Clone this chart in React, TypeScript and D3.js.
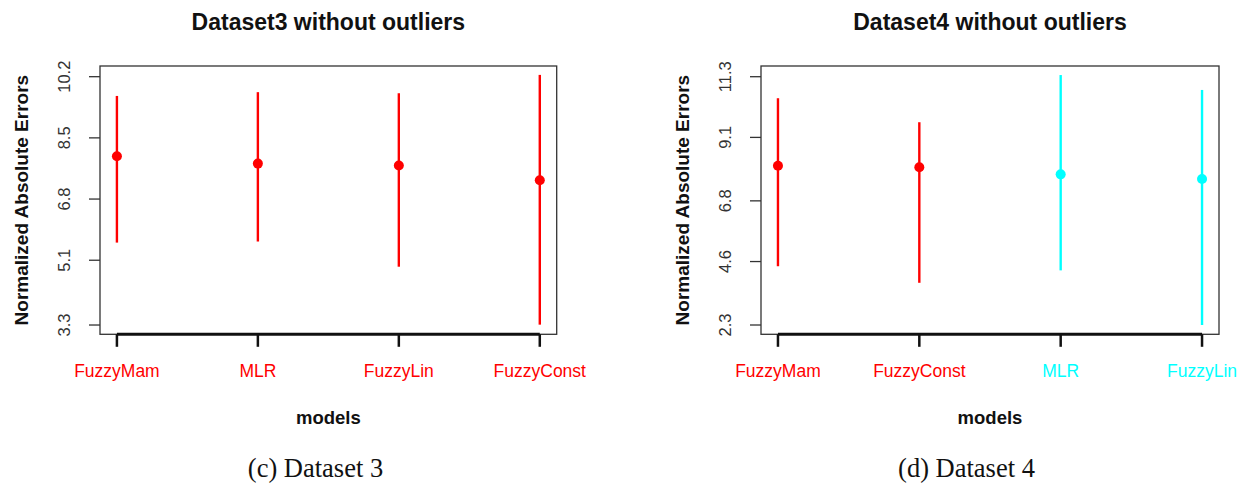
import React from "react";
import * as d3 from "d3";

// ---- Data ----
const titles = ["Dataset3 without outliers", "Dataset4 without outliers"];
const captions = ["(c) Dataset 3", "(d) Dataset 4"];

const categories3 = ["FuzzyMam", "MLR", "FuzzyLin", "FuzzyConst"];
const lower3 = [5.59, 5.62, 4.92, 3.31];
const mean3 = [7.99, 7.785, 7.73, 7.32];
const upper3 = [9.665, 9.77, 9.74, 10.25];
const colors3 = ["#ff0000", "#ff0000", "#ff0000", "#ff0000"];
const ticks3 = [3.3, 5.1, 6.8, 8.5, 10.2];

const categories4 = ["FuzzyMam", "FuzzyConst", "MLR", "FuzzyLin"];
const lower4 = [4.43, 3.83, 4.28, 2.3];
const mean4 = [8.07, 8.02, 7.76, 7.59];
const upper4 = [10.52, 9.65, 11.36, 10.82];
const colors4 = ["#ff0000", "#ff0000", "#00ffff", "#00ffff"];
const ticks4 = [2.3, 4.6, 6.8, 9.1, 11.3];

const yDomain3: [number, number] = [3.042, 10.497];
const yDomain4: [number, number] = [1.963, 11.688];

const SANS = "'Liberation Sans', Arial, Helvetica, sans-serif";
const SERIF = "'Liberation Serif', 'Times New Roman', serif";

type PanelProps = {
  x0: number;
  x1: number;
  title: string;
  caption: string;
  captionX: number;
  cats: string[];
  lo: number[];
  mid: number[];
  hi: number[];
  cols: string[];
  ticks: number[];
  yDomain: [number, number];
};

function Panel(p: PanelProps) {
  const y0 = 66;
  const y1 = 334.3;
  const x = d3.scaleLinear().domain([0.88, 4.12]).range([p.x0, p.x1]);
  const y = d3.scaleLinear().domain(p.yDomain).range([y1, y0]);
  const cx = (p.x0 + p.x1) / 2;
  const idx = d3.range(p.cats.length);
  const seg = d3.line<[number, number]>();
  return (
    <g>
      <text
        x={cx}
        y={29.5}
        textAnchor="middle"
        fontFamily={SANS}
        fontWeight="bold"
        fontSize={23}
        fill="#111"
      >
        {p.title}
      </text>
      {/* box */}
      <rect
        x={p.x0}
        y={y0}
        width={p.x1 - p.x0}
        height={y1 - y0}
        fill="none"
        stroke="#333"
        strokeWidth={1.3}
      />
      {/* y ticks */}
      {p.ticks.map((t) => (
        <g key={t}>
          <line x1={p.x0 - 11} x2={p.x0} y1={y(t)} y2={y(t)} stroke="#333" strokeWidth={1.3} />
          <text
            transform={`translate(${p.x0 - 30},${y(t)}) rotate(-90)`}
            textAnchor="middle"
            fontFamily={SANS}
            fontSize={16.5}
            fill="#333"
          >
            {String(t)}
          </text>
        </g>
      ))}
      <text
        transform={`translate(${p.x0 - 72},${(y0 + y1) / 2}) rotate(-90)`}
        textAnchor="middle"
        fontFamily={SANS}
        fontWeight="bold"
        fontSize={19}
        fill="#111"
      >
        Normalized Absolute Errors
      </text>
      {/* x axis */}
      <line x1={x(1)} x2={x(p.cats.length)} y1={y1} y2={y1} stroke="#111" strokeWidth={3} />
      {idx.map((i) => (
        <g key={i}>
          <line x1={x(i + 1)} x2={x(i + 1)} y1={y1} y2={y1 + 12.5} stroke="#111" strokeWidth={2.5} />
          <text
            x={x(i + 1)}
            y={376.7}
            textAnchor="middle"
            fontFamily={SANS}
            fontSize={17.5}
            fill={p.cols[i]}
          >
            {p.cats[i]}
          </text>
        </g>
      ))}
      <text
        x={cx}
        y={424}
        textAnchor="middle"
        fontFamily={SANS}
        fontWeight="bold"
        fontSize={18.5}
        fill="#111"
      >
        models
      </text>
      {/* error bars */}
      {idx.map((i) => (
        <g key={"b" + i}>
          <path
            d={seg([
              [x(i + 1), y(p.lo[i])],
              [x(i + 1), y(p.hi[i])],
            ]) as string}
            stroke={p.cols[i]}
            strokeWidth={2.4}
            fill="none"
          />
          <circle cx={x(i + 1)} cy={y(p.mid[i])} r={5} fill={p.cols[i]} />
        </g>
      ))}
      <text
        x={p.captionX}
        y={476.5}
        textAnchor="middle"
        fontFamily={SERIF}
        fontSize={26.5}
        fill="#111"
      >
        {p.caption}
      </text>
    </g>
  );
}

export default function App() {
  return (
    <svg
      width={1249}
      height={484}
      style={{ position: "absolute", left: 0, top: 0, background: "#fff" }}
    >
      <rect x={0} y={0} width={1249} height={484} fill="#fff" />
      <Panel
        x0={100}
        x1={556.7}
        title={titles[0]}
        caption={captions[0]}
        captionX={315.5}
        cats={categories3}
        lo={lower3}
        mid={mean3}
        hi={upper3}
        cols={colors3}
        ticks={ticks3}
        yDomain={yDomain3}
      />
      <Panel
        x0={761}
        x1={1219}
        title={titles[1]}
        caption={captions[1]}
        captionX={966.5}
        cats={categories4}
        lo={lower4}
        mid={mean4}
        hi={upper4}
        cols={colors4}
        ticks={ticks4}
        yDomain={yDomain4}
      />
    </svg>
  );
}
